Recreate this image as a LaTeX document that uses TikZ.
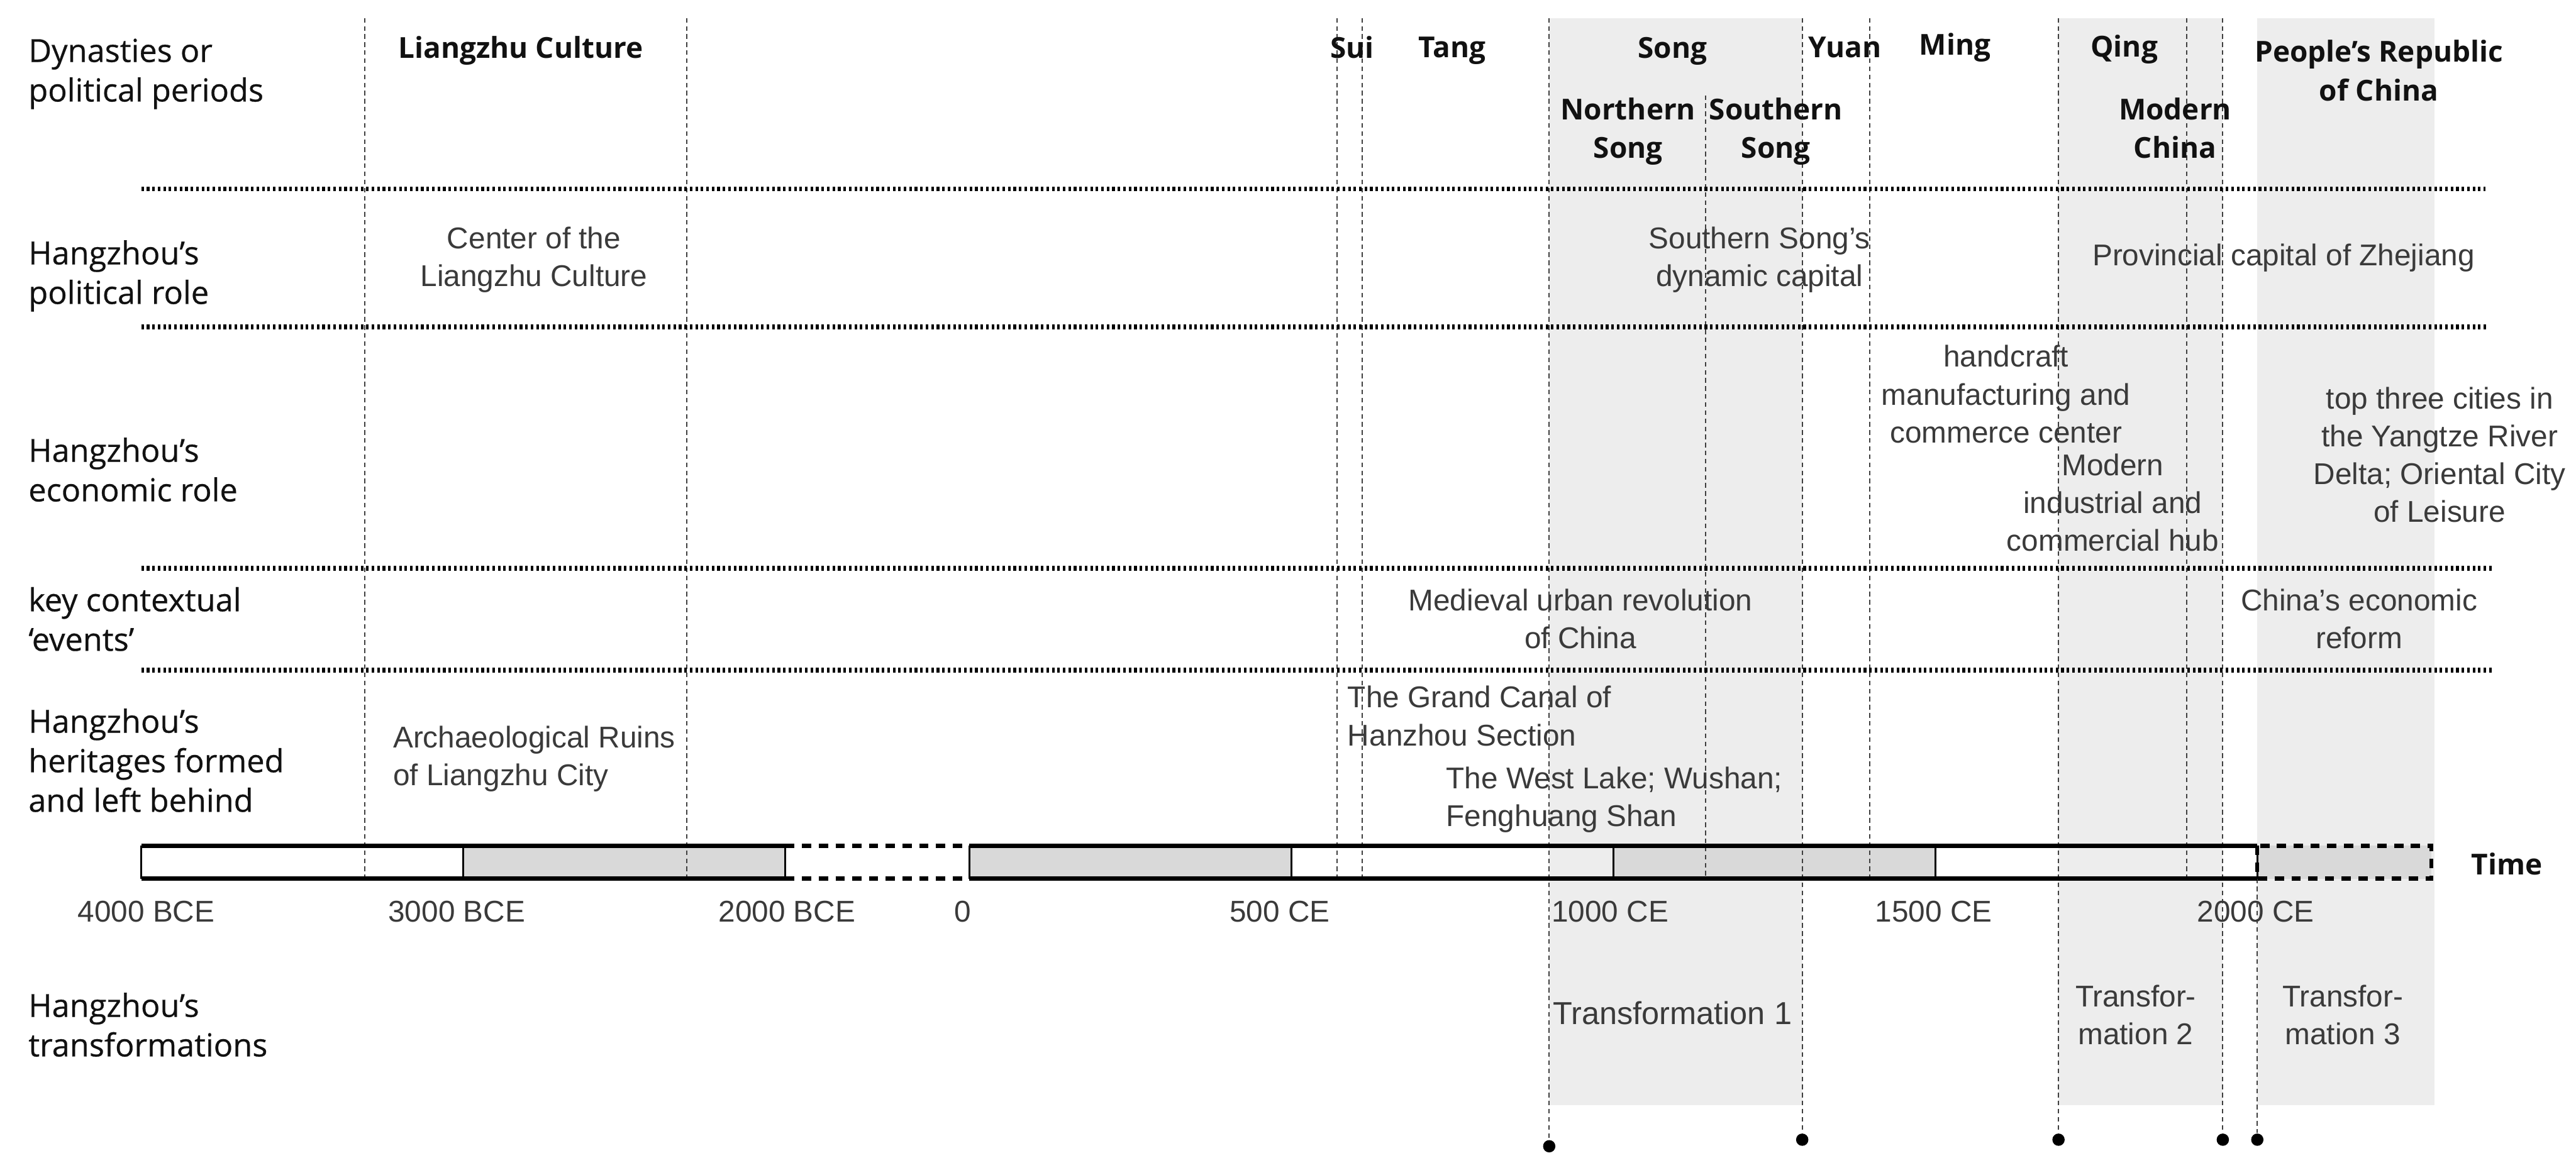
\documentclass[tikz,border=0pt]{standalone}
\usepackage{fontspec}
\setmainfont{Liberation Sans}
\newfontfamily\labfont{Open Sans}
\newfontfamily\rowfont[FakeBold=0.5]{Open Sans}
\newfontfamily\bodyfont{Liberation Sans}
\usetikzlibrary{positioning}
\definecolor{tlInk}{HTML}{111111}
\definecolor{tlGrey}{HTML}{3A3A3A}
\definecolor{tlRule}{HTML}{3F3F3F}
\definecolor{tlShade}{HTML}{EDEDED}
\definecolor{tlBar}{HTML}{D9D9D9}
\tikzset{
  tl/row/.style={anchor=west, align=left, text=tlInk, inner sep=0pt,
    font=\rowfont\fontsize{11}{13.7}\selectfont},
  tl/era/.style={align=center, text=tlInk, inner sep=0pt,
    font=\labfont\bfseries\fontsize{10}{13.4}\selectfont},
  tl/text/.style={align=center, text=tlGrey, inner sep=0pt,
    font=\bodyfont\fontsize{10.4}{13.1}\selectfont},
  tl/textleft/.style={tl/text, align=left, anchor=west},
  tl/year/.style={tl/text},
  % row separators and period boundaries
  tl/grid/.style={draw=black, line width=1.7pt, dash pattern=on 0.9pt off 1pt},
  tl/period/.style={draw=tlRule, line width=0.45pt, dash pattern=on 1.6pt off 1.2pt},
  % time bar
  tl/shade/.style={fill=tlShade},
  tl/barfill/.style={fill=tlBar},
  tl/bar/.style={draw=black, line width=1.4pt},
  tl/barside/.style={draw=black, line width=0.7pt},
  tl/gap/.style={draw=black, line width=1.4pt, dash pattern=on 3.2pt off 2.6pt},
  tl/dot/.style={circle, fill=black, inner sep=0pt, minimum size=1.5mm},
}

\begin{document}
\begin{tikzpicture}[x=0.2mm, y=-0.2mm]
\useasboundingbox (0,0) rectangle (1568,708);

% transformation periods
\fill[tl/shade] (943,11) rectangle (1097,673);
\fill[tl/shade] (1253,11) rectangle (1353,673);
\fill[tl/shade] (1374,11) rectangle (1482,673);

\fill[tl/barfill] (282,515) rectangle (478,535);
\fill[tl/barfill] (590,515) rectangle (786,535);
\fill[tl/barfill] (982,515) rectangle (1178,535);
\draw[tl/gap, fill=tlBar] (1374,515) rectangle (1480,535);

\coordinate (lzS) at (222,11);    \coordinate (lzSb) at (222,535);
\coordinate (lzE) at (418,11);    \coordinate (lzEb) at (418,535);
\coordinate (suiS) at (814,11);   \coordinate (suiSb) at (814,535);
\coordinate (tangS) at (829,11);  \coordinate (tangSb) at (829,535);
\coordinate (songS) at (943,11);
\coordinate (nsongE) at (1038,58); \coordinate (nsongEb) at (1038,535);
\coordinate (songE) at (1097,11);
\coordinate (yuanE) at (1138,11); \coordinate (yuanEb) at (1138,535);
\coordinate (qingS) at (1253,11);
\coordinate (qingE) at (1331,11); \coordinate (qingEb) at (1331,535);
\coordinate (modE) at (1353,11);
\coordinate (now) at (1374,535);

\node[tl/dot] (tfOneA) at (943,698) {};
\node[tl/dot] (tfOneB) at (1097,694) {};
\node[tl/dot] (tfTwoA) at (1253,694) {};
\node[tl/dot] (tfTwoB) at (1353,694) {};
\node[tl/dot] (tfThree) at (1374,694) {};

\draw[tl/period] (lzS) -- (lzSb);
\draw[tl/period] (lzE) -- (lzEb);
\draw[tl/period] (suiS) -- (suiSb);
\draw[tl/period] (tangS) -- (tangSb);
\draw[tl/period] (songS) -- (tfOneA);
\draw[tl/period] (nsongE) -- (nsongEb);
\draw[tl/period] (songE) -- (tfOneB);
\draw[tl/period] (yuanE) -- (yuanEb);
\draw[tl/period] (qingS) -- (tfTwoA);
\draw[tl/period] (qingE) -- (qingEb);
\draw[tl/period] (modE) -- (tfTwoB);
\draw[tl/period] (now) -- (tfThree);

\coordinate (sepA) at (86,115); \coordinate (sepAe) at (1513,115);
\coordinate (sepB) at (86,199); \coordinate (sepBe) at (1515,199);
\coordinate (sepC) at (86,346); \coordinate (sepCe) at (1517,346);
\coordinate (sepD) at (86,408); \coordinate (sepDe) at (1518,408);
\draw[tl/grid] (sepA) -- (sepAe);
\draw[tl/grid] (sepB) -- (sepBe);
\draw[tl/grid] (sepC) -- (sepCe);
\draw[tl/grid] (sepD) -- (sepDe);

\draw[tl/bar] (86,515) -- (478,515) (86,535) -- (478,535);
\draw[tl/bar] (590,515) -- (1374,515) (590,535) -- (1374,535);
\draw[tl/gap] (478,515) -- (590,515) (478,535) -- (590,535);
\draw[tl/barside] (86,515) -- (86,535) (282,515) -- (282,535)
  (478,515) -- (478,535) (590,515) -- (590,535) (786,515) -- (786,535)
  (982,515) -- (982,535) (1178,515) -- (1178,535) (1374,515) -- (1374,535);

\node[tl/row] (rowDyn) at (17,45) {Dynasties or\\political periods};
\node[tl/row] (rowPol) at (17,168) {Hangzhou’s\\political role};
\node[tl/row] (rowEco) at (17,286) {Hangzhou’s\\economic role};
\node[tl/row] (rowEvt) at (17,377) {key contextual\\‘events’};
\node[tl/row] (rowHer) at (17,463) {Hangzhou’s\\heritages formed\\and left behind};
\node[tl/row] (rowTra) at (17,624) {Hangzhou’s\\transformations};

\node[tl/era] (eraLz) at (317,31) {Liangzhu Culture};
\node[tl/era] (eraSui) at (823,29) {Sui};
\node[tl/era] (eraTang) at (884,31) {Tang};
\node[tl/era] (eraSong) at (1018,31) {Song};
\node[tl/era] (eraNSong) at (991,80) {Northern\\Song};
\node[tl/era] (eraSSong) at (1081,80) {Southern\\Song};
\node[tl/era] (eraYuan) at (1123,29) {Yuan};
\node[tl/era] (eraMing) at (1190,29) {Ming};
\node[tl/era] (eraQing) at (1293,30) {Qing};
\node[tl/era] (eraMod) at (1324,78) {Modern\\China};
\node[tl/era] (eraPrc) at (1448,43) {People’s Republic\\of China};

\node[tl/text] (polLz) at (325,158) {Center of the\\Liangzhu Culture};
\node[tl/text] (polSong) at (1071,158) {Southern Song’s\\dynamic capital};
\node[tl/text] (polProv) at (1390,157) {Provincial capital of Zhejiang};
\node[tl/text] (ecoMing) at (1221,240) {handcraft\\manufacturing and\\commerce center};
\node[tl/text] (ecoMod) at (1286,306) {Modern\\industrial and\\commercial hub};
\node[tl/text] (ecoPrc) at (1485,277) {top three cities in\\the Yangtze River\\Delta; Oriental City\\of Leisure};
\node[tl/text] (evtUrban) at (962,377) {Medieval urban revolution\\of China};
\node[tl/text] (evtReform) at (1436,377) {China’s economic\\reform};
\node[tl/textleft] (herLz) at (239,462) {Archaeological Ruins\\of Liangzhu City};
\node[tl/textleft] (herCanal) at (820,436) {The Grand Canal of\\Hanzhou Section};
\node[tl/textleft] (herLake) at (880,487) {The West Lake; Wushan;\\Fenghuang Shan};

\node[tl/year] (y4000) at (89,555) {4000 BCE};
\node[tl/year] (y3000) at (278,555) {3000 BCE};
\node[tl/year] (y2000) at (479,555) {2000 BCE};
\node[tl/year] (y0) at (586,555) {0};
\node[tl/year] (y500) at (779,555) {500 CE};
\node[tl/year] (y1000) at (980,555) {1000 CE};
\node[tl/year] (y1500) at (1177,555) {1500 CE};
\node[tl/year] (y2000ce) at (1373,555) {2000 CE};
\node[tl/era] (time) at (1526,526) {Time};

\node[tl/text, font=\bodyfont\fontsize{11}{13.1}\selectfont] (tfOne) at (1018,617) {Transformation 1};
\node[tl/text] (tfTwo) at (1300,618) {Transfor-\\mation 2};
\node[tl/text] (tfThr) at (1426,618) {Transfor-\\mation 3};
\end{tikzpicture}
\end{document}
